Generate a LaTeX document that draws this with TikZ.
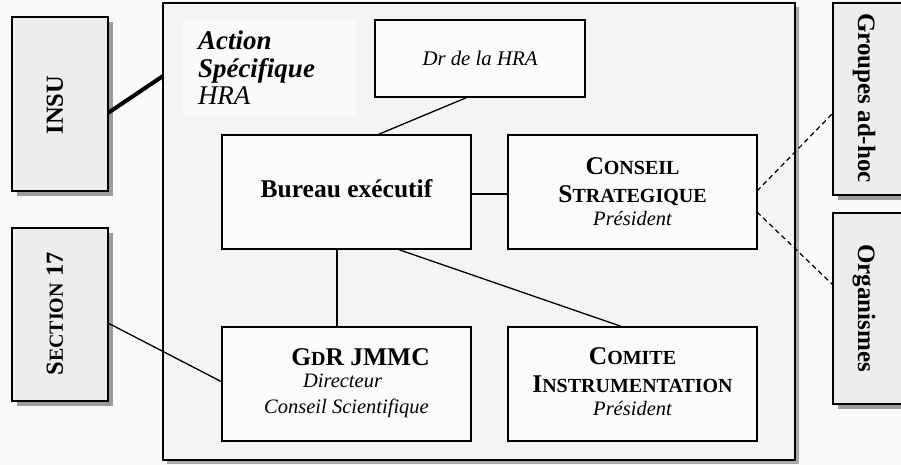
\documentclass[tikz,border=0pt]{standalone}
\usepackage{fontspec}
\setmainfont{Liberation Serif}
\usetikzlibrary{shadows}
\definecolor{bgc}{HTML}{FAFAFA}
\definecolor{bigc}{HTML}{F4F4F4}
\definecolor{innerc}{HTML}{FBFBFB}
\definecolor{labelc}{HTML}{FAFAFA}
\definecolor{sidec}{HTML}{EDEDED}
\definecolor{shadowc}{HTML}{9C9C9C}
\definecolor{bigshadowc}{HTML}{A8A8A8}
\newcommand\fsc[1]{{\fontsize{20}{20}\selectfont #1}}
\newcommand\ttlfont{\fontsize{25.5}{28}\selectfont\bfseries}
\newcommand\subfont{\fontsize{20.5}{24}\selectfont\itshape\mdseries}
\begin{document}
\begin{tikzpicture}[x=1pt,y=-1pt,
  box/.style={draw=black, line width=1.8pt, fill=innerc, minimum width=249pt,
    minimum height=114pt, inner sep=0pt, outer sep=0pt, align=center},
  side/.style={draw=black, line width=1.8pt, fill=sidec, inner sep=0pt, outer sep=0pt,
    drop shadow={shadow xshift=5pt, shadow yshift=-5pt, fill=shadowc, opacity=1}},
  sidetext/.style={inner sep=0pt, font=\fontsize{24.5}{24.5}\selectfont\bfseries},
  link/.style={line width=1.3pt},
  dlink/.style={line width=1.2pt, dash pattern=on 5pt off 3.5pt},
  ]
\clip (0,0) rectangle (901,465);
\fill[bgc] (0,0) rectangle (901,465);

% side boxes
\node[side, minimum width=96pt, minimum height=174pt] (insu) at (60,104) {};
\node[sidetext, rotate=90] (insutxt) at (55,105) {INSU};
\node[side, minimum width=96pt, minimum height=173pt] (section) at (60,314.5) {};
\node[sidetext, rotate=90] (sectiontxt) at (55,314) {S\fsc{ECTION} 17};
\node[side, minimum width=100pt, minimum height=192pt] (groupes) at (883,99) {};
\node[sidetext, rotate=-90, font=\fontsize{25}{25}\selectfont\bfseries] (groupestxt) at (864,98) {Groupes ad-hoc};
\node[side, minimum width=100pt, minimum height=191pt] (organismes) at (883,308.5) {};
\node[sidetext, rotate=-90, font=\fontsize{25}{25}\selectfont\bfseries] (organismestxt) at (864,308) {Organismes};

% big box
\node[draw=black, line width=2.4pt, fill=bigc, minimum width=632pt, minimum height=457pt,
  inner sep=0pt, outer sep=0pt,
  drop shadow={shadow xshift=4pt, shadow yshift=-4pt, fill=bigshadowc, opacity=1}] (big) at (479,231.5) {};

% action label
\node[fill=labelc, minimum width=173pt, minimum height=96pt, inner xsep=0pt, inner ysep=0pt,
  text width=163pt, align=left, font=\fontsize{27}{27.5}\selectfont, outer sep=0pt] (action) at (269.5,68)
  {\hspace*{10pt}\textbf{\textit{Action}}\\\hspace*{10pt}\textbf{\textit{Spécifique}}\\\hspace*{10pt}\textit{HRA}};

% inner boxes
\node[box, minimum width=210pt, minimum height=77pt, font=\fontsize{20.8}{24}\selectfont\itshape] (dr) at (480,58.5) {Dr de la HRA};
\node[box, font=\ttlfont] (bureau) at (346.5,192) {\raisebox{7pt}{Bureau exécutif}};
\node[box, font=\ttlfont] (conseil) at (632.5,192)
  {C\fsc{ONSEIL}\\S\fsc{TRATEGIQUE}\\[-5pt]{\subfont Président}};
\node[box, font=\ttlfont] (gdr) at (346.5,384)
  {\begin{tabular}{@{}c@{}}\hspace*{28pt}G\fsc{D}R JMMC\\[-6pt]
   {\subfont Directeur\hspace*{8pt}}\\[-2pt] {\subfont Conseil Scientifique}\end{tabular}};
\node[box, font=\ttlfont] (comite) at (632.5,384)
  {\raisebox{6pt}{\begin{tabular}{@{}c@{}}C\fsc{OMITE}\\ I\fsc{NSTRUMENTATION}\\[-5pt] {\subfont Président}\end{tabular}}};

% connectors
\draw[line width=4pt] ([yshift=-9pt]insu.east) -- ([yshift=155.5pt]big.west);
\draw[link] ([xshift=-12pt]dr.south) -- ([xshift=30.5pt]bureau.north);
\draw[link] ([yshift=-2pt]bureau.east) -- ([yshift=-2pt]conseil.west);
\draw[link] ([xshift=-9.5pt]bureau.south) -- ([xshift=-9.5pt]gdr.north);
\draw[link] ([xshift=50.5pt]bureau.south) -- ([xshift=-9.5pt]comite.north);
\draw[link] ([yshift=-8.5pt]section.east) -- ([yshift=2pt]gdr.west);
\draw[dlink] ([yshift=1pt]conseil.east) -- ([yshift=-14pt]groupes.west);
\draw[dlink] ([yshift=-20pt]conseil.east) -- ([yshift=23.5pt]organismes.west);
\end{tikzpicture}
\end{document}
